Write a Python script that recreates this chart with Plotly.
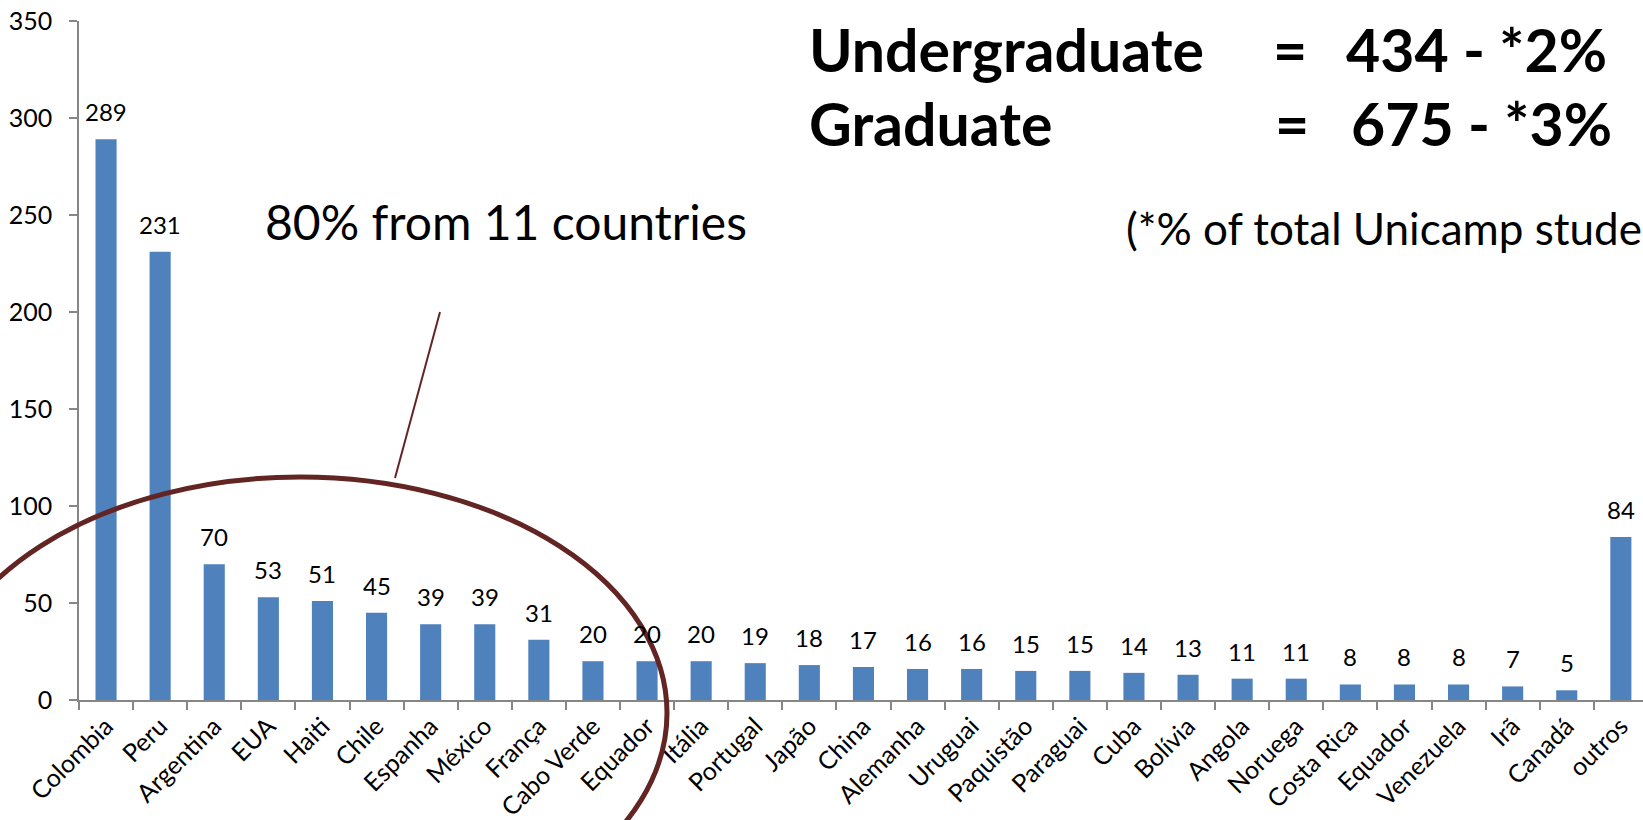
import plotly.graph_objects as go

# ---- data ----
countries = ["Colombia", "Peru", "Argentina", "EUA", "Haiti", "Chile", "Espanha", "México",
             "França", "Cabo Verde", "Equador", "Itália", "Portugal", "Japão", "China",
             "Alemanha", "Uruguai", "Paquistão", "Paraguai", "Cuba", "Bolívia", "Angola",
             "Noruega", "Costa Rica", "Equador", "Venezuela", "Irã", "Canadá", "outros"]
students = [289, 231, 70, 53, 51, 45, 39, 39, 31, 20, 20, 20, 19, 18, 17, 16, 16, 15, 15,
            14, 13, 11, 11, 8, 8, 8, 7, 5, 84]
y_ticks = [0, 50, 100, 150, 200, 250, 300, 350]

# ---- layout geometry (pixels) ----
W, H = 1643, 820
L, R, T, B = 79, 0, 21, 120
PW, PH = W - L - R, H - T - B
CAT = 54.1  # pixels per category


def px(x):
    return (x - L) / PW


def py(y):
    return (H - B - y) / PH


FONT = "Lato"
BAR = "#4F81BD"
DARKRED = "#632523"
AXIS = "#868686"

xs = list(range(len(countries)))

fig = go.Figure()
fig.add_trace(go.Bar(x=xs, y=students, marker=dict(color=BAR, line=dict(width=0)),
                     width=0.39, hoverinfo="x+y"))

annotations = []
for x, v in zip(xs, students):
    annotations.append(dict(x=x, y=v, xref="x", yref="y", text=str(v), showarrow=False,
                            yanchor="bottom", yshift=11,
                            font=dict(family=FONT, size=24, color="black")))

big = dict(family=FONT, size=59, color="black", weight="bold")
annotations += [
    dict(x=px(807), y=py(50), text="<b>Undergraduate</b>", font=big),
    dict(x=px(1271), y=py(50), text="<b>=</b>", font=big),
    dict(x=px(1344), y=py(50), text="<b>434 - *2%</b>", font=big),
    dict(x=px(807), y=py(123), text="<b>Graduate</b>", font=big),
    dict(x=px(1273), y=py(123), text="<b>=</b>", font=big),
    dict(x=px(1349), y=py(123), text="<b>675 - *3%</b>", font=big),
    dict(x=px(1124), y=py(228), text="(*% of total Unicamp students)",
         font=dict(family=FONT, size=44, color="black")),
    dict(x=px(263), y=py(222), text="80% from 11 countries",
         font=dict(family=FONT, size=48, color="black")),
]
for a in annotations[len(students):]:
    a.update(xref="paper", yref="paper", xanchor="left", yanchor="middle", showarrow=False)

shapes = [
    dict(type="circle", xref="paper", yref="paper",
         x0=px(-67), x1=px(667), y0=py(949), y1=py(477),
         line=dict(color=DARKRED, width=5), fillcolor="rgba(0,0,0,0)", layer="above"),
    dict(type="line", xref="paper", yref="paper",
         x0=px(440), y0=py(312), x1=px(395), y1=py(478),
         line=dict(color=DARKRED, width=2), layer="above"),
]

fig.update_layout(
    width=W, height=H,
    margin=dict(l=L, r=R, t=T, b=B, pad=0),
    paper_bgcolor="white", plot_bgcolor="white",
    showlegend=False,
    annotations=annotations,
    shapes=shapes,
    font=dict(family=FONT, color="black"),
    xaxis=dict(
        range=[-0.5, (PW / CAT) - 0.5],
        tickmode="array", tickvals=xs, ticktext=countries,
        tickangle=-45, ticks="", showgrid=False, zeroline=False,
        showline=True, linecolor=AXIS, linewidth=1.5,
        tickfont=dict(family=FONT, size=25, color="black"),
        minor=dict(tick0=0.5, dtick=1, ticks="outside", ticklen=8, tickcolor=AXIS,
                   tickwidth=1.5, showgrid=False),
        automargin=False, fixedrange=True,
    ),
    yaxis=dict(
        range=[0, 350], tickmode="array", tickvals=y_ticks,
        ticks="outside", ticklen=8, tickcolor=AXIS, tickwidth=1.5,
        showline=True, linecolor=AXIS, linewidth=1.5,
        showgrid=False, zeroline=False,
        tickfont=dict(family=FONT, size=25, color="black"),
        ticklabelstandoff=12,
        automargin=False, fixedrange=True,
    ),
)

fig.write_html("out.html", config={"displayModeBar": False},
               post_script="document.body.style.margin='0';document.body.style.overflow='hidden';")
